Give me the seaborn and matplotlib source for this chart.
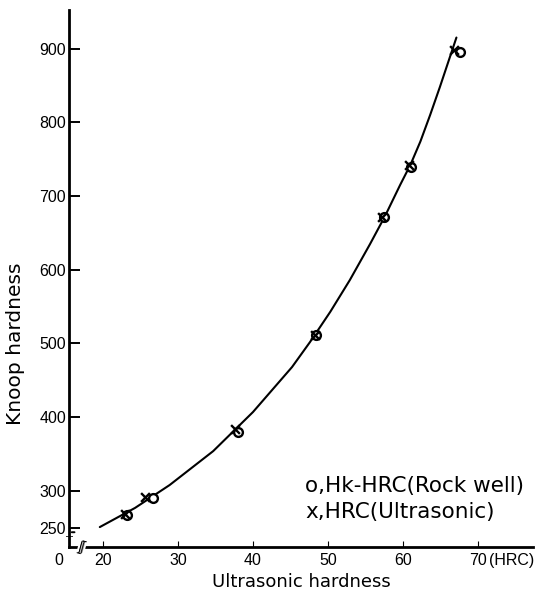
import numpy as np
import pandas as pd
import matplotlib
matplotlib.use("Agg")
import matplotlib.pyplot as plt
import seaborn as sns

# Knoop hardness against Rockwell C hardness (HRC)
rock_hrc = [23.2, 26.7, 38.0, 48.4, 57.4, 61.0, 67.6]
rock_hk = [268, 290, 380, 511, 671, 740, 895]

ultra_hrc = [23.0, 25.6, 37.6, 48.2, 57.2, 60.8, 66.8]
ultra_hk = [269, 292, 384, 512, 672, 742, 898]

# hand-drawn fitted curve
curve_hrc = [19.6, 24.3, 28.9, 34.7, 40.0, 45.2, 47.6, 50.3, 52.9,
             55.6, 57.6, 59.6, 61.0, 62.3, 63.6, 64.9, 67.1]
curve_hk = [251, 277, 308, 354, 407, 468, 502, 543, 586,
            635, 673, 715, 743, 774, 810, 848, 915]

x_ticks = [20, 30, 40, 50, 60, 70]
y_ticks = [250, 300, 400, 500, 600, 700, 800, 900]

sns.set_style("ticks")
plt.rcParams["font.family"] = ["Liberation Sans", "DejaVu Sans"]
plt.rcParams["text.color"] = "black"
plt.rcParams["axes.labelcolor"] = "black"

fig = plt.figure(figsize=(5.46, 5.97), dpi=100)
ax = fig.add_axes([0.1264, 0.0838, 0.8498, 0.899])

curve = pd.DataFrame({"hrc": curve_hrc, "hk": curve_hk})
sns.lineplot(data=curve, x="hrc", y="hk", sort=False, color="black",
             linewidth=1.5, ax=ax)

rock = pd.DataFrame({"hrc": rock_hrc, "hk": rock_hk})
ultra = pd.DataFrame({"hrc": ultra_hrc, "hk": ultra_hk})
sns.scatterplot(data=rock, x="hrc", y="hk", marker="o", s=40,
                facecolor="white", edgecolor="black", linewidth=1.7,
                ax=ax, zorder=3)
sns.scatterplot(data=ultra, x="hrc", y="hk", marker="x", s=40,
                color="black", linewidth=1.7, ax=ax, zorder=4)

ax.set_xlim(15.5, 77.3)
ax.set_ylim(224, 952)

sns.despine(ax=ax)
for side in ("left", "bottom"):
    ax.spines[side].set_linewidth(2.0)
    ax.spines[side].set_color("black")

ax.set_xticks(x_ticks)
ax.set_xticklabels([str(v) for v in x_ticks])
ax.set_yticks(y_ticks)
ax.set_yticklabels([str(v) for v in y_ticks])
ax.tick_params(axis="y", direction="in", length=8, width=1.4, labelsize=11.5,
               pad=2, colors="black")
ax.tick_params(axis="x", direction="in", length=4, width=0.8, labelsize=11.5,
               pad=4, colors="black")

ax.set_xlabel("Ultrasonic hardness", fontsize=13, labelpad=4,
              family="DejaVu Sans")
ax.set_ylabel("Knoop hardness", fontsize=14.5, family="DejaVu Sans")
ax.yaxis.set_label_coords(-0.094, 0.378)

# unit after the last x tick label
ax.annotate("(HRC)", xy=(70, 224), xytext=(8, -4), textcoords="offset points",
            ha="left", va="top", fontsize=11.5, annotation_clip=False)
# origin label and axis break marks
ax.annotate("0", xy=(15.5, 224), xytext=(-7, -4), textcoords="offset points",
            ha="center", va="top", fontsize=11.5, annotation_clip=False)
ax.annotate("ʃʃ", xy=(17.2, 224), xytext=(0, 0), textcoords="offset points",
            ha="center", va="center", fontsize=10, rotation=-15,
            annotation_clip=False,
            bbox=dict(boxstyle="square,pad=0.05", fc="white", ec="none"))
ax.annotate("", xy=(15.5, 244), xytext=(16.6, 244),
            arrowprops=dict(arrowstyle="-", lw=1.4, color="black"),
            annotation_clip=False)
ax.annotate("┬", xy=(15.5, 236), ha="center", va="center", fontsize=7,
            annotation_clip=False)

ax.text(0.509, 0.114, "o,Hk-HRC(Rock well)", transform=ax.transAxes,
        fontsize=15.5, ha="left", va="center", family="DejaVu Sans")
ax.text(0.509, 0.065, "x,HRC(Ultrasonic)", transform=ax.transAxes,
        fontsize=15.5, ha="left", va="center", family="DejaVu Sans")

fig.savefig("out.png", dpi=100)
